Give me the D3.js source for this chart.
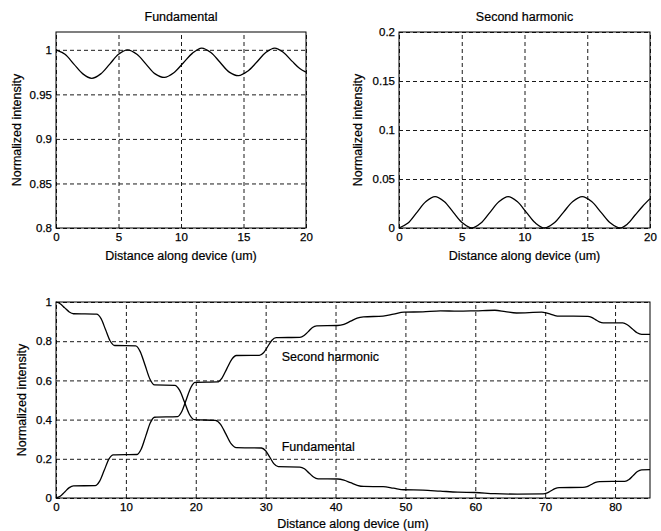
<!DOCTYPE html>
<html>
<head>
<meta charset="utf-8">
<script src="https://cdn.jsdelivr.net/npm/d3@7"></script>
<style>
  body { margin: 0; background: #fff; }
  svg { font-family: "Liberation Sans", Arial, sans-serif; }
  .grid line { stroke: #000; stroke-dasharray: 4,3; stroke-width: 0.9; }
  .grid .domain { display: none; }
  .tick text { font-size: 11.5px; fill: #000; stroke: #000; stroke-width: 0.25px; }
  .lbl { font-size: 12.5px; fill: #000; stroke: #000; stroke-width: 0.2px; }
</style>
</head>
<body>
<div id="chart-area"></div>
<script>
// top-left: fundamental over first 20 um
var fundShortX = [0, 0.72, 1.43, 2.15, 2.86, 3.58, 4.3, 5.0, 5.73, 6.47, 7.2, 7.93, 8.67, 9.4, 10.16, 10.9, 11.65, 12.39, 13.12, 13.86, 14.6, 15.33, 16.05, 16.78, 17.5, 18.2, 18.9, 19.5, 20];
var fundShortY = [1.0, 0.995, 0.984, 0.973, 0.968, 0.973, 0.984, 0.995, 1.0, 0.995, 0.984, 0.973, 0.969, 0.974, 0.985, 0.996, 1.002, 0.997, 0.986, 0.975, 0.971, 0.976, 0.986, 0.997, 1.002, 0.997, 0.987, 0.979, 0.975];

// top-right: second harmonic over first 20 um
var shShortX = [0, 0.72, 1.43, 2.15, 2.87, 3.6, 4.33, 5.07, 5.8, 6.53, 7.25, 7.98, 8.7, 9.42, 10.15, 10.88, 11.6, 12.35, 13.1, 13.85, 14.6, 15.35, 16.1, 16.85, 17.6, 18.2, 18.8, 19.4, 20];
var shShortY = [0, 0.005, 0.016, 0.027, 0.032, 0.027, 0.016, 0.005, 0, 0.005, 0.016, 0.027, 0.032, 0.027, 0.016, 0.005, 0, 0.005, 0.016, 0.027, 0.032, 0.027, 0.016, 0.005, 0, 0.004, 0.013, 0.022, 0.030];

// bottom: whole device (85 um)
var shLongX = [0, 0.6, 1.25, 1.9, 2.5, 5.6, 6.25, 6.9, 7.55, 8.2, 11.6, 12.2, 12.85, 13.5, 14.1, 17.4, 18.0, 18.65, 19.3, 19.9, 23.1, 23.75, 24.45, 25.15, 25.8, 29.1, 29.7, 30.3, 30.9, 31.5, 34.9, 35.5, 36.1, 36.7, 37.3, 40.3, 41.2, 42.15, 43.1, 44, 46.8, 48.3, 49.8, 52.5, 55, 57.5, 60, 62.8, 64.3, 65.9, 69.5, 70.1, 70.75, 71.4, 72, 76.1, 76.65, 77.2, 77.75, 78.3, 81.1, 81.75, 82.45, 83.15, 83.8, 85];
var shLongY = [0, 0.009, 0.031, 0.053, 0.062, 0.063, 0.086, 0.141, 0.197, 0.22, 0.222, 0.25, 0.317, 0.384, 0.412, 0.415, 0.441, 0.503, 0.564, 0.59, 0.592, 0.612, 0.66, 0.707, 0.727, 0.728, 0.741, 0.773, 0.805, 0.818, 0.82, 0.829, 0.849, 0.87, 0.878, 0.88, 0.886, 0.902, 0.918, 0.924, 0.928, 0.938, 0.948, 0.95, 0.955, 0.953, 0.955, 0.958, 0.951, 0.944, 0.948, 0.945, 0.938, 0.931, 0.928, 0.927, 0.922, 0.91, 0.899, 0.894, 0.893, 0.884, 0.864, 0.843, 0.835, 0.835];

var fundLongX = [0, 0.6, 1.25, 1.9, 2.5, 5.8, 6.45, 7.1, 7.75, 8.4, 11.4, 12.05, 12.75, 13.45, 14.1, 17.0, 17.7, 18.4, 19.1, 19.8, 22.8, 23.55, 24.3, 25.05, 25.8, 29.4, 30.0, 30.6, 31.2, 31.8, 34.9, 35.55, 36.2, 36.85, 37.5, 40.3, 41.2, 42.15, 43.1, 44, 46.8, 48.3, 49.8, 52.5, 55, 57.5, 60, 62.8, 66, 69.7, 70.3, 70.85, 71.4, 72, 75.4, 76, 76.6, 77.2, 77.8, 81.4, 82, 82.6, 83.2, 83.8, 85];
var fundLongY = [1, 0.991, 0.97, 0.949, 0.94, 0.938, 0.915, 0.858, 0.801, 0.778, 0.776, 0.747, 0.677, 0.606, 0.577, 0.575, 0.549, 0.488, 0.426, 0.4, 0.396, 0.376, 0.327, 0.277, 0.257, 0.255, 0.241, 0.208, 0.174, 0.16, 0.158, 0.149, 0.128, 0.107, 0.098, 0.097, 0.091, 0.078, 0.065, 0.059, 0.058, 0.05, 0.042, 0.04, 0.035, 0.03, 0.028, 0.022, 0.02, 0.021, 0.026, 0.037, 0.048, 0.053, 0.054, 0.058, 0.069, 0.08, 0.084, 0.085, 0.094, 0.115, 0.135, 0.144, 0.145];

var W = 661, H = 531;
var svg = d3.select("#chart-area").append("svg")
    .attr("width", W).attr("height", H);

function zip(xs, ys) { return xs.map(function(x, i) { return [x, ys[i]]; }); }

function panel(opt) {
    var w = opt.right - opt.left, h = opt.bottom - opt.top;
    var g = svg.append("g").attr("transform", "translate(" + opt.left + "," + opt.top + ")");
    var x = d3.scaleLinear().domain(opt.xDomain).range([0, w]);
    var y = d3.scaleLinear().domain(opt.yDomain).range([h, 0]);

    // grid lines (dashed), drawn by the axes themselves
    g.append("g").attr("class", "grid")
        .attr("transform", "translate(0," + h + ")")
        .call(d3.axisBottom(x).tickValues(opt.xTicks).tickSize(-h).tickFormat(""));
    g.append("g").attr("class", "grid")
        .call(d3.axisLeft(y).tickValues(opt.yTicks).tickSize(-w).tickFormat(""));

    // tick labels
    var xa = g.append("g")
        .attr("transform", "translate(0," + h + ")")
        .call(d3.axisBottom(x).tickValues(opt.xTicks).tickSize(0).tickPadding(5).tickFormat(d3.format("d")));
    xa.select(".domain").remove();
    var ya = g.append("g")
        .call(d3.axisLeft(y).tickValues(opt.yTicks).tickSize(0).tickPadding(4)
            .tickFormat(function(d) { return d3.format("~g")(d); }));
    ya.select(".domain").remove();

    // box
    g.append("rect").attr("width", w).attr("height", h)
        .attr("fill", "none").attr("stroke", "#000").attr("stroke-width", 1);

    var line = d3.line()
        .x(function(d) { return x(d[0]); })
        .y(function(d) { return y(d[1]); })
        .curve(opt.curve);
    opt.series.forEach(function(s) {
        g.append("path").datum(s)
            .attr("d", line)
            .attr("fill", "none")
            .attr("stroke", "#000")
            .attr("stroke-width", 1.3);
    });

    if (opt.title) {
        g.append("text").attr("class", "lbl")
            .attr("x", w / 2).attr("y", -11)
            .attr("text-anchor", "middle")
            .text(opt.title);
    }
    g.append("text").attr("class", "lbl")
        .attr("x", w / 2).attr("y", h + opt.xLabelDy)
        .attr("text-anchor", "middle")
        .text("Distance along device (um)");
    g.append("text").attr("class", "lbl")
        .attr("transform", "rotate(-90)")
        .attr("x", -h / 2).attr("y", opt.yLabelX)
        .attr("text-anchor", "middle")
        .text("Normalized intensity");
    return {g: g, x: x, y: y};
}

panel({
    left: 56, right: 306, top: 32, bottom: 228,
    xDomain: [0, 20], yDomain: [0.8, 1.02],
    xTicks: [0, 5, 10, 15, 20], yTicks: [0.8, 0.85, 0.9, 0.95, 1],
    series: [zip(fundShortX, fundShortY)],
    curve: d3.curveCatmullRom,
    title: "Fundamental", xLabelDy: 32, yLabelX: -35
});

panel({
    left: 399, right: 650, top: 32, bottom: 228,
    xDomain: [0, 20], yDomain: [0, 0.2],
    xTicks: [0, 5, 10, 15, 20], yTicks: [0, 0.05, 0.1, 0.15, 0.2],
    series: [zip(shShortX, shShortY)],
    curve: d3.curveCatmullRom,
    title: "Second harmonic", xLabelDy: 32, yLabelX: -37
});

var bottom = panel({
    left: 56, right: 650, top: 302, bottom: 498,
    xDomain: [0, 85], yDomain: [0, 1],
    xTicks: [0, 10, 20, 30, 40, 50, 60, 70, 80], yTicks: [0, 0.2, 0.4, 0.6, 0.8, 1],
    series: [zip(shLongX, shLongY), zip(fundLongX, fundLongY)],
    curve: d3.curveMonotoneX,
    title: null, xLabelDy: 30, yLabelX: -30
});

bottom.g.append("text").attr("class", "lbl")
    .attr("x", bottom.x(32.3)).attr("y", bottom.y(0.7))
    .text("Second harmonic");
bottom.g.append("text").attr("class", "lbl")
    .attr("x", bottom.x(32.3)).attr("y", bottom.y(0.24))
    .text("Fundamental");
</script>
</body>
</html>
